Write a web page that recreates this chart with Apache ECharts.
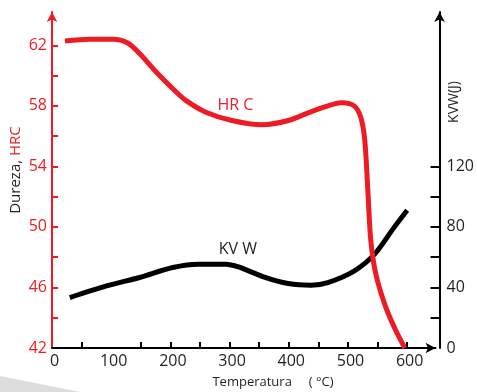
<!DOCTYPE html>
<html>
<head>
<meta charset="utf-8">
<script src="https://cdn.jsdelivr.net/npm/echarts@6/dist/echarts.min.js"></script>
<style>
  html, body { margin: 0; padding: 0; background: #fff; }
  #chart { width: 477px; height: 392px; }
</style>
</head>
<body>
<div id="chart"></div>
<script>
// Hardness (HRC) vs tempering temperature
const tempHRC = [22, 64, 103, 128, 148, 176, 204, 226, 260, 304, 355, 399, 444, 490, 511, 522, 528.5, 533.6, 538.6, 547, 562, 579, 596];
const hrc = [62.28, 62.4, 62.4, 62.15, 61.45, 60.23, 59.13, 58.36, 57.58, 57.03, 56.75, 57.03, 57.7, 58.2, 57.98, 57.2, 55.7, 52.4, 49.1, 46.9, 44.9, 43.3, 42.0];

// Impact energy KVW (J) vs tempering temperature
const tempKVW = [30, 92, 148, 204, 248, 293, 315, 360, 399, 438, 466, 511, 545, 578, 600];
const kvw = [33.3, 41, 46.6, 53.2, 55.4, 55.4, 53.6, 46.6, 42.6, 41.5, 43.2, 51, 62, 79.7, 91];

// Axis ticks and labels
const xLabels = [0, 100, 200, 300, 400, 500, 600];
const xTicks = [50, 150, 200, 250, 300, 350, 400, 450, 500, 550, 600];
const hrcLabels = [42, 46, 50, 54, 58, 62];
const hrcTicks = [44, 46, 48, 50, 52, 54, 56, 58, 60, 62];
const kvwLabels = [0, 40, 80, 120];
const kvwTicks = [20, 40, 60, 80, 100, 120];

const RED = '#ED1C24';
const INK = '#231F20';
const FONT = '"Open Sans", "Noto Sans", sans-serif';

const chart = echarts.init(document.getElementById('chart'), null, { renderer: 'canvas' });

chart.setOption({
  backgroundColor: '#fff',
  animation: false,
  grid: { left: 52, right: 39, top: 12, bottom: 44 },
  xAxis: {
    type: 'value',
    min: 0,
    max: 648,
    splitLine: { show: false },
    axisLine: {
      onZero: false,
      symbol: ['none', 'arrow'],
      symbolSize: [8, 10],
      lineStyle: { color: '#000', width: 2 }
    },
    axisTick: {
      inside: true, length: 6, customValues: xTicks,
      lineStyle: { color: '#000', width: 2 }
    },
    axisLabel: {
      customValues: xLabels,
      color: INK, fontFamily: FONT, fontSize: 16, margin: 5,
      padding: [0, 0, 0, 5]
    }
  },
  yAxis: [
    {
      type: 'value',
      min: 42,
      max: 64.2,
      position: 'left',
      splitLine: { show: false },
      axisLine: {
        show: true,
        symbol: ['none', 'arrow'],
        symbolSize: [8, 10],
        lineStyle: { color: RED, width: 2 }
      },
      axisTick: {
        show: true, inside: true, length: 6, customValues: hrcTicks,
        lineStyle: { color: RED, width: 2 }
      },
      axisLabel: {
        customValues: hrcLabels,
        color: RED, fontFamily: FONT, fontSize: 16, margin: 5
      }
    },
    {
      type: 'value',
      min: 0,
      max: 222,
      position: 'right',
      offset: 4,
      splitLine: { show: false },
      axisLine: {
        show: true,
        symbol: ['none', 'arrow'],
        symbolSize: [8, 10],
        lineStyle: { color: '#000', width: 2 }
      },
      axisTick: {
        show: true, inside: true, length: 9, customValues: kvwTicks,
        lineStyle: { color: '#000', width: 2 }
      },
      axisLabel: {
        customValues: kvwLabels,
        color: INK, fontFamily: FONT, fontSize: 16, margin: 7
      }
    }
  ],
  series: [
    {
      name: 'HRC',
      type: 'line',
      yAxisIndex: 0,
      data: tempHRC.map((t, i) => [t, hrc[i]]),
      smooth: 0.3,
      showSymbol: false,
      symbol: 'none',
      lineStyle: { color: RED, width: 5, cap: 'butt', join: 'round' },
      z: 3,
      markPoint: {
        symbol: 'circle',
        symbolSize: 0,
        data: [{ coord: [310, 58.03] }],
        label: {
          show: true, position: 'inside', formatter: 'HR C',
          color: RED, fontFamily: FONT, fontSize: 16
        }
      }
    },
    {
      name: 'KVW',
      type: 'line',
      yAxisIndex: 1,
      data: tempKVW.map((t, i) => [t, kvw[i]]),
      smooth: 0.3,
      showSymbol: false,
      symbol: 'none',
      lineStyle: { color: '#000', width: 5, cap: 'butt', join: 'round' },
      z: 2,
      markPoint: {
        symbol: 'circle',
        symbolSize: 0,
        data: [{ coord: [314, 64.9] }],
        label: {
          show: true, position: 'inside', formatter: 'KV W',
          color: INK, fontFamily: FONT, fontSize: 16
        }
      }
    }
  ],
  graphic: [
    {
      type: 'polygon',
      silent: true,
      z: -1,
      shape: { points: [[0, 376], [80, 392], [0, 392]] },
      style: { fill: '#dcdcdc' }
    },
    {
      type: 'text',
      x: 16, y: 170,
      rotation: Math.PI / 2,
      style: {
        text: '{a|Dureza, }{b|HRC}',
        align: 'center', verticalAlign: 'middle',
        fontFamily: FONT, fontSize: 15,
        rich: {
          a: { fill: INK, fontFamily: FONT, fontSize: 15 },
          b: { fill: RED, fontFamily: FONT, fontSize: 15 }
        }
      }
    },
    {
      type: 'text',
      x: 454, y: 102,
      rotation: Math.PI / 2,
      style: {
        text: 'KVW(J)',
        align: 'center', verticalAlign: 'middle',
        fill: INK, fontFamily: FONT, fontSize: 14
      }
    },
    {
      type: 'text',
      x: 273, y: 382,
      style: {
        text: 'Temperatura     ( °C)',
        align: 'center', verticalAlign: 'middle',
        fill: INK, fontFamily: FONT, fontSize: 13
      }
    }
  ]
});
</script>
</body>
</html>
